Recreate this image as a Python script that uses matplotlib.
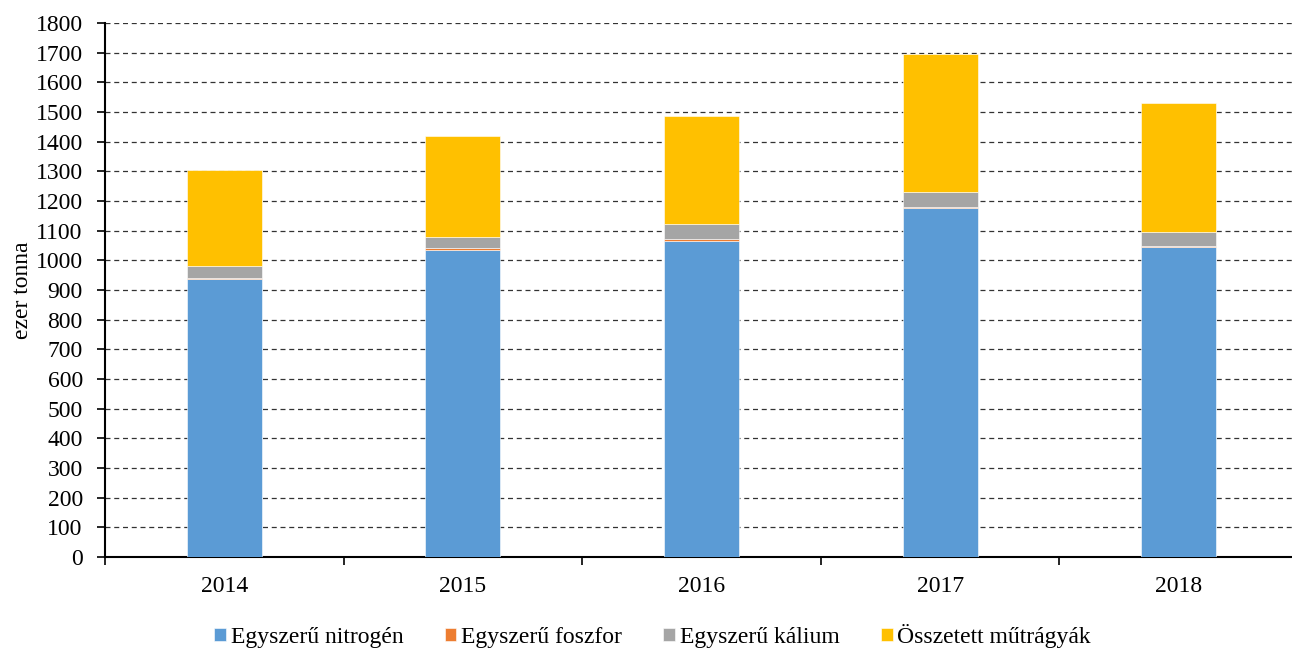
import matplotlib
matplotlib.use('Agg')
import matplotlib.pyplot as plt
import numpy as np

plt.rcParams['font.family'] = ['Liberation Serif', 'DejaVu Serif']

years = ['2014', '2015', '2016', '2017', '2018']
nitrogen = [937, 1035, 1065, 1178, 1045]
foszfor = [5, 5, 7, 2, 4]
kalium = [40, 40, 51, 50, 46]
osszetett = [322, 340, 363, 465, 436]

series = [
    ('Egyszerű nitrogén', nitrogen, '#5B9BD5'),
    ('Egyszerű foszfor', foszfor, '#ED7D31'),
    ('Egyszerű kálium', kalium, '#A5A5A5'),
    ('Összetett műtrágyák', osszetett, '#FFC000'),
]

fig = plt.figure(figsize=(12.92, 6.5), dpi=100)
ax = fig.add_axes([105/1292, 1 - 557/650, 1193/1292, 534/650])

x = np.arange(len(years))
bottom = np.zeros(len(years))
for name, vals, col in series:
    ax.bar(x, vals, 0.315, bottom=bottom, color=col, label=name, zorder=3,
           edgecolor='white', linewidth=0.4)
    bottom += np.array(vals)

ax.set_ylim(0, 1800)
ax.set_xlim(-0.5, 4.5)
ax.set_yticks(np.arange(0, 1801, 100))
ax.yaxis.grid(True, linestyle=(0, (4, 3)), color='#333333', linewidth=0.9, zorder=0)
ax.set_axisbelow(True)

ax.set_xticks(x)
ax.set_xticklabels(years)
ax.tick_params(axis='x', which='major', length=0, pad=14)
ax.set_xticks(np.arange(-0.5, 4.6, 1), minor=True)
ax.tick_params(axis='x', which='minor', length=6, width=1.2, direction='out')
ax.tick_params(axis='y', length=6, width=1.2, direction='out', pad=10)
ax.tick_params(labelsize=17)

for s in ['top', 'right']:
    ax.spines[s].set_visible(False)
for s in ['left', 'bottom']:
    ax.spines[s].set_linewidth(1.5)

ax.set_ylabel('ezer tonna', fontsize=17, labelpad=2)

ax.legend(loc='upper center', bbox_to_anchor=(0.459, -0.085), ncol=4, frameon=False,
          fontsize=17, handlelength=0.5, handleheight=0.5, handletextpad=0.2,
          columnspacing=1.75)

fig.savefig('out.png', dpi=100)
